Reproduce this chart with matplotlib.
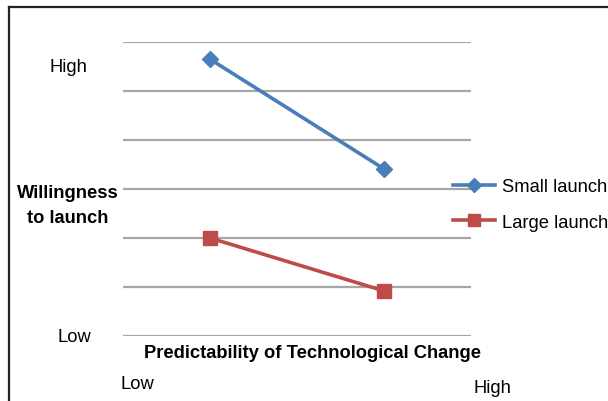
import matplotlib

matplotlib.use("Agg")
import matplotlib.pyplot as plt
from matplotlib.lines import Line2D

plt.rcParams["font.family"] = ["Liberation Sans", "DejaVu Sans"]

# two categories along x, willingness on an unlabelled 0-6 scale
categories = ["Low", "High"]
small_launch = [5.65, 3.41]
large_launch = [2.0, 0.92]
grid_levels = [0, 1, 2, 3, 4, 5, 6]

BLUE = "#4A7EBB"
RED = "#BE4B48"
GRID = "#A6A6A6"
FS = 13.2

W, H = 608, 402
fig = plt.figure(figsize=(W / 100, H / 100), dpi=100, facecolor="white")
ax = fig.add_axes([123 / W, (H - 337) / H, (471 - 123) / W, (337 - 43) / H])

xs = range(len(categories))
ax.plot(xs, small_launch, color=BLUE, lw=2.6, marker="D", ms=8.5, label="Small launch", zorder=3)
ax.plot(xs, large_launch, color=RED, lw=2.6, marker="s", ms=10, label="Large launch", zorder=3)

ax.set_xlim(-0.5, 1.5)
ax.set_ylim(grid_levels[0], grid_levels[-1])
ax.set_yticks(grid_levels)
ax.set_xticks([])
ax.yaxis.grid(True, color=GRID, lw=1.6)
ax.tick_params(length=0, labelleft=False)
for s in ax.spines.values():
    s.set_visible(False)
ax.set_axisbelow(True)

# outer frame (clipped at right/bottom like the source image)
fig.add_artist(Line2D([9 / W, 9 / W], [0, 1 - 8 / H], color="#222222", lw=1.6))
fig.add_artist(Line2D([9 / W, 1], [1 - 8 / H, 1 - 8 / H], color="#222222", lw=1.6))


def ftext(x, y, s, **kw):
    fig.text(x / W, 1 - y / H, s, ha="center", va="center", fontsize=FS, color="black", **kw)


ftext(68, 67.5, "High")
ftext(74, 337.5, "Low")
ftext(68, 206, "Willingness\nto launch", fontweight="bold", linespacing=1.55)
ftext(312, 354, "Predictability of Technological Change", fontweight="bold")
ftext(137, 385, categories[0])
ftext(492, 389, categories[1])

fig.legend(
    loc="center left",
    bbox_to_anchor=(453 / W, 1 - 205.5 / H),
    frameon=False,
    fontsize=FS,
    handlelength=2.3,
    handletextpad=0.4,
    labelspacing=1.0,
    borderpad=0,
    borderaxespad=0,
    markerscale=0.85,
)

fig.savefig("out.png", dpi=100, facecolor="white")
